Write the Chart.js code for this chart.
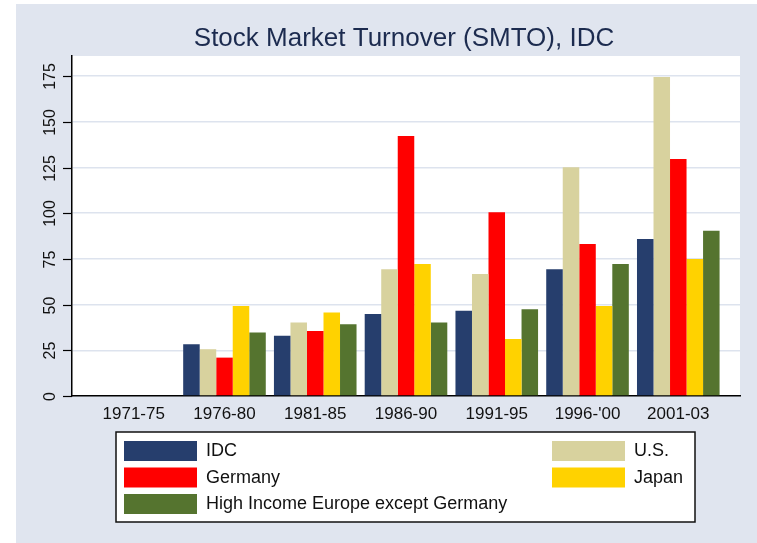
<!DOCTYPE html>
<html>
<head>
<meta charset="utf-8">
<title>Stock Market Turnover (SMTO), IDC</title>
<script src="https://cdn.jsdelivr.net/npm/chart.js@4/dist/chart.umd.min.js"></script>
<style>
  body { margin: 0; background: #fff; }
  #wrap { width: 757px; height: 543px; }
</style>
</head>
<body>
<div id="wrap"><canvas id="chart" width="757" height="543"></canvas></div>
<script>
// periods on the x axis
const categories = ['1971-75', '1976-80', '1981-85', '1986-90', '1991-95', "1996-'00", '2001-03'];

// turnover values (no data for 1971-75)
const idc      = [null, 28.3, 32.9, 44.8, 46.6, 69.4, 85.9];
const us       = [null, 25.6, 40.2, 69.4, 66.7, 125.1, 174.5];
const germany  = [null, 21.0, 35.6, 142.3, 100.5, 83.1, 129.7];
const japan    = [null, 49.3, 45.7, 72.2, 31.2, 49.3, 74.9];
const hiEurope = [null, 34.7, 39.3, 40.2, 47.5, 72.2, 90.4];

const yTicks = [0, 25, 50, 75, 100, 125, 150, 175];

const seriesNames = ['IDC', 'U.S.', 'Germany', 'Japan', 'High Income Europe except Germany'];
const seriesColors = ['#263e6d', '#d8d29e', '#ff0000', '#ffd200', '#55742f'];
const seriesValues = [idc, us, germany, japan, hiEurope];

const FONT = '"Liberation Sans", Arial, sans-serif';

const toPoints = vals => vals.map((v, i) => ({ x: i, y: v }));

// backgrounds, title, rotated y labels and the boxed legend
const stataLook = {
  id: 'stataLook',
  beforeDraw(chart) {
    const { ctx, chartArea: a } = chart;
    ctx.save();
    ctx.fillStyle = '#ffffff';
    ctx.fillRect(0, 0, chart.width, chart.height);
    ctx.fillStyle = '#e0e5ef';
    ctx.fillRect(16, 4, chart.width - 16, chart.height - 4);
    ctx.fillStyle = '#ffffff';
    ctx.fillRect(a.left, a.top, a.right - a.left, a.bottom - a.top);
    ctx.restore();
  },
  afterDraw(chart) {
    const { ctx, chartArea: a } = chart;
    const y = chart.scales.y;
    ctx.save();

    // title
    ctx.fillStyle = '#1c2b4f';
    ctx.font = '26px ' + FONT;
    ctx.textAlign = 'center';
    ctx.textBaseline = 'middle';
    ctx.fillText('Stock Market Turnover (SMTO), IDC', 404, 39);

    // y ticks + rotated labels
    ctx.strokeStyle = '#000';
    ctx.lineWidth = 1.2;
    ctx.fillStyle = '#111';
    ctx.font = '16px ' + FONT;
    yTicks.forEach(t => {
      const py = Math.round(y.getPixelForValue(t)) + 0.5;
      ctx.beginPath();
      ctx.moveTo(a.left - 9, py);
      ctx.lineTo(a.left, py);
      ctx.stroke();
      ctx.save();
      ctx.translate(55, py);
      ctx.rotate(-Math.PI / 2);
      ctx.textAlign = 'center';
      ctx.textBaseline = 'alphabetic';
      ctx.fillText(String(t), 0, 0);
      ctx.restore();
    });

    // legend box
    const box = { x: 116, y: 432, w: 579, h: 90 };
    ctx.fillStyle = '#fff';
    ctx.fillRect(box.x, box.y, box.w, box.h);
    ctx.strokeStyle = '#111';
    ctx.lineWidth = 1.5;
    ctx.strokeRect(box.x, box.y, box.w, box.h);

    const cols = [124, 552];
    ctx.font = '18px ' + FONT;
    ctx.textAlign = 'left';
    ctx.textBaseline = 'middle';
    chart.data.datasets.forEach((ds, i) => {
      const col = i % 2, row = Math.floor(i / 2);
      const sx = cols[col], sy = 441 + row * 26.5;
      ctx.fillStyle = ds.backgroundColor;
      ctx.fillRect(sx, sy, 73, 20);
      ctx.fillStyle = '#111';
      ctx.fillText(ds.label, sx + 82, sy + 10.5);
    });
    ctx.restore();
  }
};

new Chart(document.getElementById('chart'), {
  type: 'bar',
  data: {
    datasets: seriesNames.map((name, i) => ({
      label: name,
      data: toPoints(seriesValues[i]),
      backgroundColor: seriesColors[i],
      borderWidth: 0,
      categoryPercentage: 0.91,
      barPercentage: 1.0
    }))
  },
  options: {
    responsive: false,
    animation: false,
    devicePixelRatio: 1,
    layout: { padding: { left: 0, top: 56, right: 17, bottom: 0 } },
    plugins: {
      legend: { display: false },
      title: { display: false },
      tooltip: { enabled: false }
    },
    scales: {
      x: {
        type: 'linear',
        offset: false,
        min: -0.68,
        max: 6.68,
        afterBuildTicks: s => { s.ticks = categories.map((c, i) => ({ value: i })); },
        afterFit: s => { s.height = 147; },
        grid: { display: false, drawTicks: false },
        border: { display: true, color: '#000', width: 1.5 },
        ticks: {
          autoSkip: false,
          maxRotation: 0,
          padding: 8,
          color: '#111',
          font: { family: FONT, size: 17 },
          callback: v => categories[v] ?? ''
        }
      },
      y: {
        min: 0,
        max: 186,
        afterBuildTicks: s => { s.ticks = yTicks.map(v => ({ value: v })); },
        afterFit: s => { s.width = 72; },
        grid: { color: '#dde3ee', lineWidth: 1.5, drawTicks: false },
        border: { display: true, color: '#000', width: 1.5 },
        ticks: { display: false }
      }
    }
  },
  plugins: [stataLook]
});
</script>
</body>
</html>
